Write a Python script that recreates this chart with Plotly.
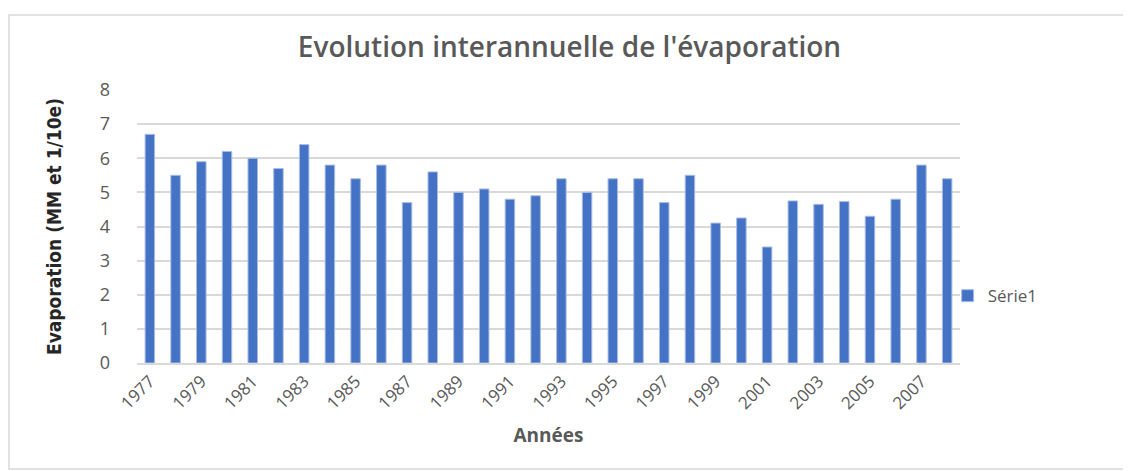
import plotly.graph_objects as go

years = [str(y) for y in range(1977, 2009)]
evaporation = [6.7, 5.5, 5.9, 6.2, 6.0, 5.7, 6.4, 5.8, 5.4, 5.8, 4.7, 5.6, 5.0, 5.1, 4.8, 4.9,
               5.4, 5.0, 5.4, 5.4, 4.7, 5.5, 4.1, 4.25, 3.4, 4.75, 4.65, 4.73, 4.3, 4.8, 5.8, 5.4]
tick_labels = years[::2]

font_main = "DejaVu Sans Condensed, Liberation Sans Narrow, sans-serif"
font_title = "Open Sans, sans-serif"
grey = "#595959"

fig = go.Figure(go.Bar(
    x=years,
    y=evaporation,
    name="Série1",
    marker_color="#4472c4",
    marker_line=dict(color="#a9bde6", width=1),
))

# the page body adds an 8px offset, so the figure is 8px smaller than the window
fig.update_layout(
    width=1123,
    height=463,
    margin=dict(l=129, r=171, t=82, b=108),
    paper_bgcolor="white",
    plot_bgcolor="white",
    bargap=0.63,
    showlegend=True,
    title=dict(
        text="Evolution interannuelle de l'évaporation",
        x=0.5, xanchor="center", y=0.915, yanchor="middle",
        font=dict(family=font_title, size=28, color=grey, weight=600),
    ),
    legend=dict(
        x=0.985, xanchor="left", y=0.245, yanchor="middle",
        bgcolor="rgba(0,0,0,0)",
        font=dict(family=font_title, size=17, color=grey),
        itemwidth=30,
    ),
    xaxis=dict(
        type="category",
        tickmode="array",
        tickvals=tick_labels,
        ticktext=tick_labels,
        tickangle=-45,
        tickfont=dict(family=font_title, size=17, color=grey),
        showgrid=False,
        showline=True,
        linecolor="#d9d9d9",
        linewidth=1.5,
        automargin=False,
        title=dict(text="<b>Années</b>", font=dict(family=font_title, size=19, color=grey), standoff=16),
    ),
    yaxis=dict(
        range=[0, 8],
        dtick=1,
        tickfont=dict(family=font_title, size=18, color=grey),
        showgrid=True,
        gridcolor="#d9d9d9",
        gridwidth=1.5,
        zeroline=False,
        ticks="",
        ticklabelstandoff=26,
        automargin=False,
        title=dict(text="<b>Evaporation (MM et 1/10e)</b>",
                   font=dict(family=font_main, size=19, color="#262626"), standoff=33),
    ),
    shapes=[dict(
        type="rect", xref="paper", yref="paper",
        x0=-0.1555, x1=1.204, y0=-0.388, y1=1.2747,
        line=dict(color="#d9d9d9", width=1.5), fillcolor="rgba(0,0,0,0)",
        layer="below",
    )],
)

fig.write_html("out.html")
